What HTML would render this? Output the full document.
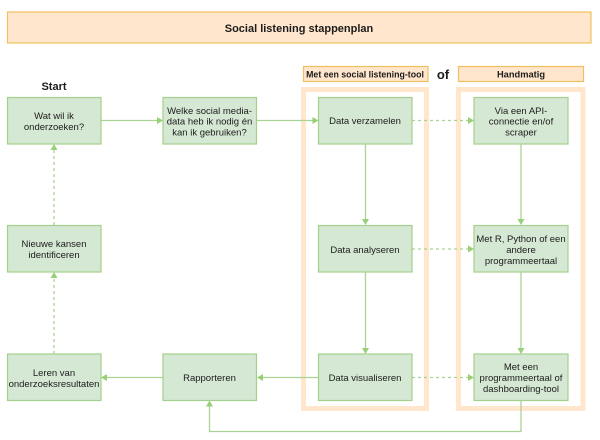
<!DOCTYPE html>
<html><head><meta charset="utf-8"><style>
html,body{margin:0;padding:0;background:#fff;width:600px;height:440px;overflow:hidden}
svg{display:block;filter:blur(.3px)}
text{font-family:"Liberation Sans",sans-serif;fill:#1c1c1c;text-anchor:middle;font-size:9.5px}
.b{font-weight:bold}
.n{fill:#d5e8d4;stroke:#a3d08a;stroke-width:1.2}
.o{fill:#ffe6cc;stroke:#f0c060;stroke-width:1.2}
.f{fill:none;stroke:#ffe6cc;stroke-width:5}
.l{fill:none;stroke:#aad494;stroke-width:1.3}
.d{fill:none;stroke:#aad494;stroke-width:1.3;stroke-dasharray:3 3}
.a{fill:#97d077}
</style></head><body>
<svg width="600" height="440" viewBox="0 0 600 440" xmlns="http://www.w3.org/2000/svg">
<rect class="o" x="7.5" y="12" width="583.5" height="31"/>
<text class="b" x="299" y="32" style="font-size:11px">Social listening stappenplan</text>
<text class="b" x="54" y="90" style="font-size:11px">Start</text>
<rect class="o" x="303.5" y="66.5" width="124.5" height="15"/>
<text class="b" x="365" y="77.500" style="font-size:8.8px">Met een social listening-tool</text>
<rect class="o" x="458.5" y="66.5" width="125" height="15"/>
<text class="b" x="521" y="77.500" style="font-size:9.300px">Handmatig</text>
<text class="b" x="443" y="79" style="font-size:13px">of</text>
<rect class="f" x="303.5" y="89.5" width="123" height="319"/>
<rect class="f" x="458.5" y="89.5" width="124.5" height="319"/>

<path class="l" d="M101 120.500H157M257 120.500H313M365.500 144V220M521 144V220M365.500 272V348M521 272V348M163 377.500H107M318 377.500H263M521 400V431.500H209.500V406"/>
<path class="d" d="M412 120.500H468M412 249H468M412 377.500H468M54 225V150M54 354V279"/>
<path class="a" d="M163 120.500l-6-3.500v7zM318.500 120.500l-6-3.500v7zM474 120.500l-6-3.500v7zM474 249l-6-3.500v7zM474 377.500l-6-3.500v7zM365.500 225l-3.500-6h7zM521 225l-3.500-6h7zM365.500 354l-3.500-6h7zM521 354l-3.500-6h7zM54 144l-3.500 6h7zM54 272l-3.500 6h7zM101 377.500l6-3.500v7zM257 377.500l6-3.500v7zM209.500 400.500l-3.500 6h7z"/>

<rect class="n" x="7.500" y="97.500" width="93.500" height="46.500"/>
<rect class="n" x="163" y="97.500" width="93.500" height="46.500"/>
<rect class="n" x="318.500" y="97.500" width="93.500" height="46.500"/>
<rect class="n" x="474" y="97.500" width="94" height="46.500"/>
<rect class="n" x="7.500" y="225.500" width="93.500" height="46.500"/>
<rect class="n" x="318.500" y="225.500" width="93.500" height="46.500"/>
<rect class="n" x="474" y="225.500" width="94" height="46.500"/>
<rect class="n" x="7.500" y="354" width="93.500" height="46.500"/>
<rect class="n" x="163" y="354" width="93.500" height="46.500"/>
<rect class="n" x="318.500" y="354" width="93.500" height="46.500"/>
<rect class="n" x="474" y="354" width="94" height="46.500"/>

<text x="54" y="119">Wat wil ik</text>
<text x="54" y="130">onderzoeken?</text>
<text x="209.500" y="114">Welke social media-</text>
<text x="209.500" y="124.500">data heb ik nodig én</text>
<text x="209.500" y="135.500">kan ik gebruiken?</text>
<text x="365" y="124">Data verzamelen</text>
<text x="521" y="114">Via een API-</text>
<text x="521" y="124.500">connectie en/of</text>
<text x="521" y="135.500">scraper</text>
<text x="54" y="247">Nieuwe kansen</text>
<text x="54" y="258">identificeren</text>
<text x="365" y="253">Data analyseren</text>
<text x="521" y="242">Met R, Python of een</text>
<text x="521" y="253">andere</text>
<text x="521" y="264">programmeertaal</text>
<text x="54" y="376">Leren van</text>
<text x="54" y="387">onderzoeksresultaten</text>
<text x="209.500" y="381">Rapporteren</text>
<text x="365" y="381">Data visualiseren</text>
<text x="521" y="370">Met een</text>
<text x="521" y="381">programmeertaal of</text>
<text x="521" y="392">dashboarding-tool</text>
</svg>
</body></html>
